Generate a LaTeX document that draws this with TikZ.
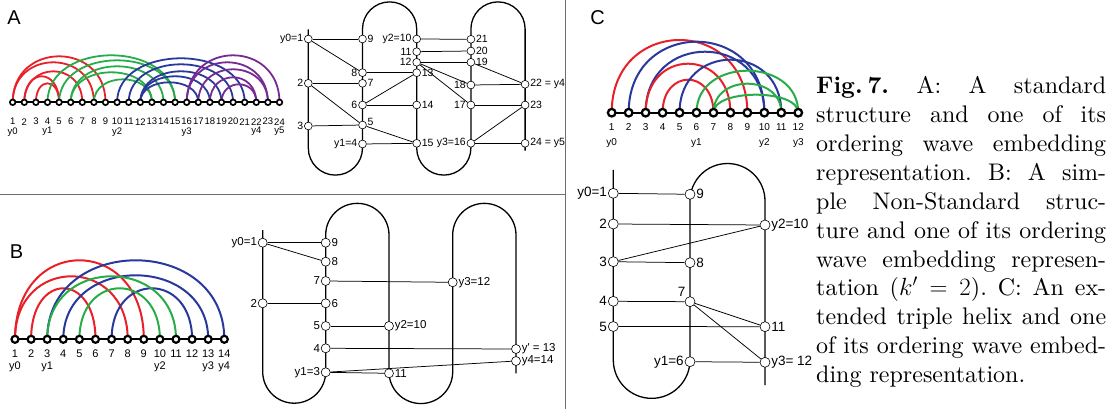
\documentclass[tikz,border=0pt]{standalone}
\usepackage{fontspec}
\setmainfont{lmroman10-regular}[Extension=.otf, BoldFont=lmroman10-bold, ItalicFont=lmroman10-italic, BoldItalicFont=lmroman10-bolditalic]
\newfontfamily\lab{Liberation Sans}
\usetikzlibrary{backgrounds}
\definecolor{cred}{RGB}{232,32,40}
\definecolor{cgreen}{RGB}{40,172,72}
\definecolor{cblue}{RGB}{40,56,156}
\definecolor{cpurple}{RGB}{118,42,150}
\definecolor{divider}{RGB}{110,110,110}
\newcommand\karc[4]{\draw[#1] (#2.center) .. controls +(0,-1.3333*#4) and +(0,-1.3333*#4) .. (#3.center);}
\begin{document}
\frenchspacing
\begin{tikzpicture}[x=1pt,y=-1pt,
  numA/.style={font=\lab\fontsize{9.5}{10}\selectfont, inner sep=0},
  numB/.style={font=\lab\fontsize{11}{12}\selectfont, inner sep=0},
  numC/.style={font=\lab\fontsize{10}{11}\selectfont, inner sep=0},
  ndA/.style={circle, draw=black, fill=white, line width=1.7pt, minimum size=5.6pt, inner sep=0},
  ndB/.style={circle, draw=black, fill=white, line width=2.2pt, minimum size=7pt, inner sep=0},
  ndC/.style={circle, draw=black, fill=white, line width=2.3pt, minimum size=7.6pt, inner sep=0},
  arcA/.style={line width=1.8pt},
  arcB/.style={line width=2pt},
  arcC/.style={line width=2pt},
  bbone/.style={line width=1.7pt},
  wA/.style={circle, draw=black, fill=white, line width=0.6pt, minimum size=7.8pt, inner sep=0},
  wB/.style={circle, draw=black, fill=white, line width=0.6pt, minimum size=9pt, inner sep=0},
  wC/.style={circle, draw=black, fill=white, line width=0.6pt, minimum size=10pt, inner sep=0},
  wlA/.style={font=\lab\fontsize{10.5}{11}\selectfont, inner sep=0.8pt},
  wlB/.style={font=\lab\fontsize{11.5}{12}\selectfont, inner sep=0.8pt},
  wlC/.style={font=\lab\fontsize{13.5}{14}\selectfont, inner sep=0.8pt},
  snake/.style={line width=1.3pt},
  wedge/.style={line width=0.75pt},
  panel/.style={font=\lab\fontsize{20}{20}\selectfont, inner sep=0}]
\useasboundingbox (0,0) rectangle (1114,409);
% dividers
\draw[divider, line width=0.9pt] (0,194.5) -- (565,194.5);
\draw[divider, line width=0.9pt] (565,0) -- (565,409);
\node[panel] (lA) at (14,18) {A};
\node[panel] (lB) at (16.5,252) {B};
\node[panel] (lC) at (597.5,18) {C};

% ---------------- Panel A arc diagram
\foreach \i in {1,...,24} {
  \pgfmathsetmacro\xx{12.7+(\i-1)*11.6}
  \node[ndA] (a\i) at (\xx,102.3) {};
  \node[numA] (an\i) at (\xx,121.7) {\i};
}
\node[numA] (ay0) at (12.7,131.7) {y0};
\node[numA] (ay1) at (47.5,131.7) {y1};
\node[numA] (ay2) at (117.1,131.7) {y2};
\node[numA] (ay3) at (186.7,131.7) {y3};
\node[numA] (ay4) at (256.3,131.7) {y4};
\node[numA] (ay5) at (279.5,131.7) {y5};
\begin{scope}[on background layer]
\karc{arcA,cred}{a1}{a9}{46}
\karc{arcA,cred}{a1}{a8}{40}
\karc{arcA,cred}{a2}{a7}{31}
\karc{arcA,cred}{a2}{a5}{26}
\karc{arcA,cred}{a3}{a5}{19}
\karc{arcA,cgreen}{a4}{a15}{47}
\karc{arcA,cgreen}{a5}{a15}{42}
\karc{arcA,cgreen}{a6}{a14}{36}
\karc{arcA,cgreen}{a6}{a13}{30}
\karc{arcA,cgreen}{a8}{a13}{23}
\karc{arcA,cblue}{a10}{a21}{44}
\karc{arcA,cblue}{a11}{a20}{38}
\karc{arcA,cblue}{a12}{a19}{31}
\karc{arcA,cblue}{a12}{a18}{26}
\karc{arcA,cblue}{a12}{a17}{20}
\karc{arcA,cpurple}{a16}{a24}{47}
\karc{arcA,cpurple}{a16}{a23}{40}
\karc{arcA,cpurple}{a17}{a23}{33}
\karc{arcA,cpurple}{a18}{a22}{25}
\karc{arcA,cpurple}{a19}{a22}{18}
\draw[bbone] (a1.center) -- (a24.center);
\end{scope}

% ---------------- Panel A wave
\draw[snake] (308.3,29.3) -- (308.3,148) arc[start angle=180,end angle=0,radius=27.1]
  -- (362.5,29) arc[start angle=180,end angle=360,radius=27.1]
  -- (416.7,148) arc[start angle=180,end angle=0,radius=27.1]
  -- (470.9,29) arc[start angle=180,end angle=360,radius=27.1]
  -- (525.1,150.7);
\node[wA, label={[wlA]left:y0=1}] (w1) at (308.3,39) {};
\node[wA, label={[wlA]left:2}] (w2) at (308.3,83.3) {};
\node[wA, label={[wlA]left:3}] (w3) at (308.3,126) {};
\node[wA, label={[wlA]right:9}] (w9) at (362.5,39) {};
\node[wA, label={[wlA]left:8}] (w8) at (362.5,72.7) {};
\node[wA, label={[wlA]right:7}] (w7) at (362.5,83.3) {};
\node[wA, label={[wlA]left:6}] (w6) at (362.5,105) {};
\node[wA, label={[wlA,yshift=3pt]right:5}] (w5) at (362.5,125) {};
\node[wA, label={[wlA]left:y1=4}] (w4) at (362.5,144) {};
\node[wA, label={[wlA]left:y2=10}] (w10) at (416.7,39) {};
\node[wA, label={[wlA]left:11}] (w11) at (416.7,51.7) {};
\node[wA, label={[wlA]left:12}] (w12) at (416.7,62.3) {};
\node[wA, label={[wlA]right:13}] (w13) at (416.7,72.7) {};
\node[wA, label={[wlA]right:14}] (w14) at (416.7,105) {};
\node[wA, label={[wlA]right:15}] (w15) at (416.7,143.3) {};
\node[wA, label={[wlA]right:21}] (w21) at (470.9,39.3) {};
\node[wA, label={[wlA]right:20}] (w20) at (470.9,51) {};
\node[wA, label={[wlA]right:19}] (w19) at (470.9,62.3) {};
\node[wA, label={[wlA]left:18}] (w18) at (470.9,85) {};
\node[wA, label={[wlA]left:17}] (w17) at (470.9,105) {};
\node[wA, label={[wlA]left:y3=16}] (w16) at (470.9,143.3) {};
\node[wA, label={[wlA]right:22 = y4}] (w22) at (525.1,84.3) {};
\node[wA, label={[wlA]right:23}] (w23) at (525.1,105) {};
\node[wA, label={[wlA]right:24 = y5}] (w24) at (525.1,143.3) {};
\begin{scope}[on background layer]
\foreach \p/\q in {w1/w9,w1/w8,w2/w7,w2/w5,w3/w5,w5/w15,w4/w15,w8/w13,w6/w13,w6/w14,
  w10/w21,w11/w20,w12/w19,w12/w18,w12/w17,w19/w22,w18/w22,w17/w23,w16/w23,w16/w24}
  \draw[wedge] (\p) -- (\q);
\end{scope}

% ---------------- Panel B arc diagram
\foreach \i in {1,...,14} {
  \pgfmathsetmacro\xx{15+(\i-1)*16.1}
  \node[ndB] (b\i) at (\xx,339.3) {};
  \node[numB] (bn\i) at (\xx,353.5) {\i};
}
\node[numB] (by0) at (15,367) {y0};
\node[numB] (by1) at (47.2,367) {y1};
\node[numB] (by2) at (159.9,367) {y2};
\node[numB] (by3) at (208.2,367) {y3};
\node[numB] (by4) at (224.3,367) {y4};
\begin{scope}[on background layer]
\karc{arcB,cred}{b1}{b9}{79}
\karc{arcB,cred}{b1}{b8}{63}
\karc{arcB,cred}{b2}{b6}{51}
\karc{arcB,cblue}{b3}{b14}{79}
\karc{arcB,cblue}{b4}{b13}{64}
\karc{arcB,cblue}{b7}{b12}{51}
\karc{arcB,cgreen}{b3}{b11}{63}
\karc{arcB,cgreen}{b5}{b10}{51}
\draw[bbone] (b1.center) -- (b14.center);
\end{scope}

% ---------------- Panel B wave
\draw[snake] (262.7,230) -- (262.7,371.7) arc[start angle=180,end angle=0,radius=31.5]
  -- (325.7,235) arc[start angle=180,end angle=360,radius=31.65]
  -- (389,371.7) arc[start angle=180,end angle=0,radius=31.85]
  -- (452.7,235) arc[start angle=180,end angle=360,radius=31.65]
  -- (516,373.3);
\node[wB, label={[wlB]left:y0=1}] (v1) at (262.7,242.7) {};
\node[wB, label={[wlB]left:2}] (v2) at (262.7,303.3) {};
\node[wB, label={[wlB]right:9}] (v9) at (325.7,242.7) {};
\node[wB, label={[wlB]right:8}] (v8) at (325.7,261.7) {};
\node[wB, label={[wlB]left:7}] (v7) at (325.7,281) {};
\node[wB, label={[wlB]right:6}] (v6) at (325.7,303.3) {};
\node[wB, label={[wlB]left:5}] (v5) at (325.7,326) {};
\node[wB, label={[wlB]left:4}] (v4) at (325.7,348.3) {};
\node[wB, label={[wlB]left:y1=3}] (v3) at (325.7,372.3) {};
\node[wB, label={[wlB]right:y2=10}] (v10) at (389,326) {};
\node[wB, label={[wlB]right:11}] (v11) at (389,373.3) {};
\node[wB, label={[wlB]right:y3=12}] (v12) at (452.7,282.3) {};
\node[wB, label={[wlB]right:y' = 13}] (v13) at (516,349) {};
\node[wB, label={[wlB]right:y4=14}] (v14) at (516,361) {};
\begin{scope}[on background layer]
\foreach \p/\q in {v1/v9,v1/v8,v7/v12,v2/v6,v5/v10,v4/v13,v3/v14,v3/v11}
  \draw[wedge] (\p) -- (\q);
\end{scope}

% ---------------- Panel C arc diagram
\foreach \i in {1,...,12} {
  \pgfmathsetmacro\xx{611.7+(\i-1)*16.96}
  \node[ndC] (c\i) at (\xx,112.7) {};
  \node[numC] (cn\i) at (\xx,127.3) {\i};
}
\node[numC] (cy0) at (611.7,143.3) {y0};
\node[numC] (cy1) at (696.5,143.3) {y1};
\node[numC] (cy2) at (764.3,143.3) {y2};
\node[numC] (cy3) at (798.3,143.3) {y3};
\begin{scope}[on background layer]
\karc{arcC,cred}{c1}{c9}{72.7}
\karc{arcC,cblue}{c2}{c10}{71}
\karc{arcC,cblue}{c3}{c10}{61}
\karc{arcC,cred}{c3}{c8}{49}
\karc{arcC,cred}{c4}{c7}{33}
\karc{arcC,cblue}{c5}{c11}{53}
\karc{arcC,cgreen}{c6}{c12}{42}
\karc{arcC,cgreen}{c7}{c11}{29}
\karc{arcC,cgreen}{c7}{c12}{18}
\draw[bbone] (c1.center) -- (c12.center);
\end{scope}

% ---------------- Panel C wave
\draw[snake] (613.3,170) -- (613.3,360) arc[start angle=180,end angle=0,radius=38.35]
  -- (690,201) arc[start angle=180,end angle=360,radius=37.5]
  -- (765,385);
\node[wC, label={[wlC]left:y0=1}] (u1) at (613.3,193.3) {};
\node[wC, label={[wlC]left:2}] (u2) at (613.3,224) {};
\node[wC, label={[wlC]left:3}] (u3) at (613.3,261.7) {};
\node[wC, label={[wlC]left:4}] (u4) at (613.3,301.3) {};
\node[wC, label={[wlC]left:5}] (u5) at (613.3,326.5) {};
\node[wC, label={[wlC]right:9}] (u9) at (690,194.3) {};
\node[wC, label={[wlC]right:8}] (u8) at (690,262.7) {};
\node[wC, label={[wlC]above left:7}] (u7) at (690,301.7) {};
\node[wC, label={[wlC]left:y1=6}] (u6) at (690,361.7) {};
\node[wC, label={[wlC]right:y2=10}] (u10) at (765,225) {};
\node[wC, label={[wlC]right:11}] (u11) at (765,326.7) {};
\node[wC, label={[wlC]right:y3= 12}] (u12) at (765,362.3) {};
\begin{scope}[on background layer]
\foreach \p/\q in {u1/u9,u2/u10,u3/u10,u3/u8,u4/u7,u5/u11,u7/u11,u7/u12,u6/u12}
  \draw[wedge] (\p) -- (\q);
\end{scope}

% ---------------- Caption
\node[anchor=north west, inner sep=0, align=left, font=\fontsize{24}{28.9}\selectfont\frenchspacing] (cap) at (816,76.3) {%
\makebox[290pt][s]{\textbf{Fig.\kern5pt7.} A: A standard}\\
\makebox[290pt][s]{structure and one of its}\\
\makebox[290pt][s]{ordering wave embedding}\\
\makebox[290pt][s]{representation. B: A sim-}\\
\makebox[290pt][s]{ple Non-Standard struc-}\\
\makebox[290pt][s]{ture and one of its ordering}\\
\makebox[290pt][s]{wave embedding represen-}\\
\makebox[290pt][s]{tation ($k'=2$). C: An ex-}\\
\makebox[290pt][s]{tended triple helix and one}\\
\makebox[290pt][s]{of its ordering wave embed-}\\
ding representation.};
\end{tikzpicture}
\end{document}
